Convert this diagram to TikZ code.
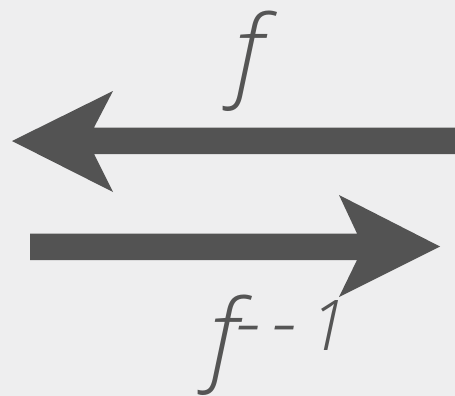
\documentclass[tikz,border=0pt]{standalone}
\usepackage{fontspec}
\IfFontExistsTF{Open Sans Light Italic}
  {\newfontfamily\lblfont{Open Sans Light Italic}}
  {\newfontfamily\lblfont{Open Sans}[UprightFont=*-Italic]}
\definecolor{bgc}{HTML}{EEEEEF}
\definecolor{arrowc}{HTML}{535353}
\definecolor{textc}{HTML}{555555}
\begin{document}
\begin{tikzpicture}[x=1pt,y=-1pt,
  arrowshape/.style={fill=arrowc,draw=none},
  lbl/.style={inner sep=0pt,outer sep=0pt,text=textc,font=\lblfont\fontsize{100}{100}\selectfont},
  suplbl/.style={inner sep=0pt,outer sep=0pt,text=textc,font=\lblfont\fontsize{70}{70}\selectfont}]
\useasboundingbox (0,0) rectangle (455,396);
\fill[bgc] (0,0) rectangle (455,396);
% top arrow (pointing left)
\coordinate (ttip) at (12,141);
\fill[arrowshape] (455,127.5) -- (94,127.5) -- (113,91) -- (ttip) -- (113,192) -- (94,154) -- (455,154) -- cycle;
% bottom arrow (pointing right)
\coordinate (btip) at (440,246.5);
\fill[arrowshape] (30,233.5) -- (357,233.5) -- (339,195) -- (btip) -- (339,297) -- (357,260) -- (30,260) -- cycle;
% labels
\node[lbl,anchor=base] (flab) at (249,88) {f};
\node[lbl,anchor=base] (finv) at (224,371) {f};
\node[suplbl,anchor=base west] (finvsup) at (235,350) {{\fontsize{84}{84}\selectfont-}\kern11pt{\fontsize{84}{84}\selectfont-}\kern12pt1};
\end{tikzpicture}
\end{document}
